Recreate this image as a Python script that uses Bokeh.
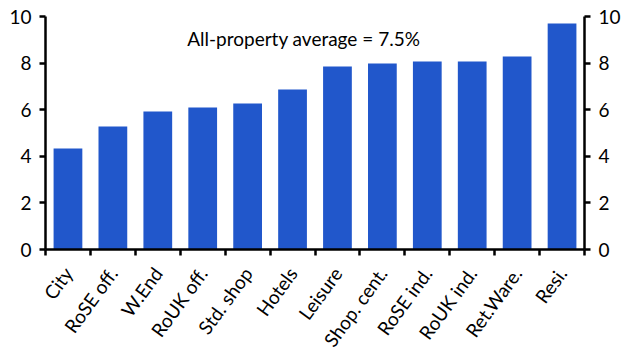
import math
from bokeh.plotting import figure
from bokeh.models import (ColumnDataSource, Range1d, LinearAxis, FixedTicker, Label)
from bokeh.embed import file_html
from bokeh.resources import INLINE

categories = ["City", "RoSE off.", "W.End", "RoUK off.", "Std. shop", "Hotels",
              "Leisure", "Shop. cent.", "RoSE ind.", "RoUK ind.", "Ret.Ware.", "Resi."]
values = [4.33, 5.28, 5.92, 6.09, 6.27, 6.87, 7.85, 7.98, 8.07, 8.07, 8.28, 9.70]
y_ticks = [0, 2, 4, 6, 8, 10]
note = "All-property average = 7.5%"

FONT = "Lato"
FS = "19px"
BLUE = "#2157CB"

n = len(categories)
xs = [i + 0.5 for i in range(n)]
src = ColumnDataSource(dict(x=xs, top=values))

p = figure(width=627, height=352, output_backend="svg", toolbar_location=None,
           x_range=Range1d(0, n), y_range=Range1d(0, 10),
           frame_width=539, frame_height=233,
           min_border_left=45, min_border_right=43, min_border_top=16, min_border_bottom=103,
           x_axis_type=None, y_axis_type=None)
p.outline_line_color = None
p.xgrid.visible = False
p.ygrid.visible = False

p.vbar(x="x", top="top", width=0.64, bottom=0, source=src, color=BLUE, line_color=None)

def style_axis(ax):
    ax.axis_line_color = "black"
    ax.axis_line_width = 2.5
    ax.major_tick_line_color = "black"
    ax.major_tick_line_width = 2.5
    ax.minor_tick_line_color = "black"
    ax.minor_tick_line_width = 2.5
    ax.major_label_text_font = FONT
    ax.major_label_text_font_size = FS
    ax.major_label_text_color = "black"

# x axis: labels at centres, tick marks at category boundaries
xax = LinearAxis(ticker=FixedTicker(ticks=xs, minor_ticks=list(range(n + 1))))
style_axis(xax)
xax.major_tick_out = 0
xax.major_tick_in = 0
xax.minor_tick_out = 6
xax.minor_tick_in = 0
xax.major_label_overrides = {x: c for x, c in zip(xs, categories)}
xax.major_label_orientation = 0.94
xax.major_label_standoff = 14
p.add_layout(xax, "below")

for side in ("left", "right"):
    ax = LinearAxis(ticker=FixedTicker(ticks=y_ticks, minor_ticks=[]))
    style_axis(ax)
    ax.major_tick_out = 6
    ax.major_tick_in = 0
    ax.minor_tick_out = 0
    ax.minor_tick_in = 0
    ax.major_label_standoff = 8
    p.add_layout(ax, side)

p.add_layout(Label(x=5.75, y=9.05, text=note, text_align="center", text_baseline="middle",
                   text_font=FONT, text_font_size=FS, text_color="black"))

open("out.html", "w").write(file_html(p, INLINE))
